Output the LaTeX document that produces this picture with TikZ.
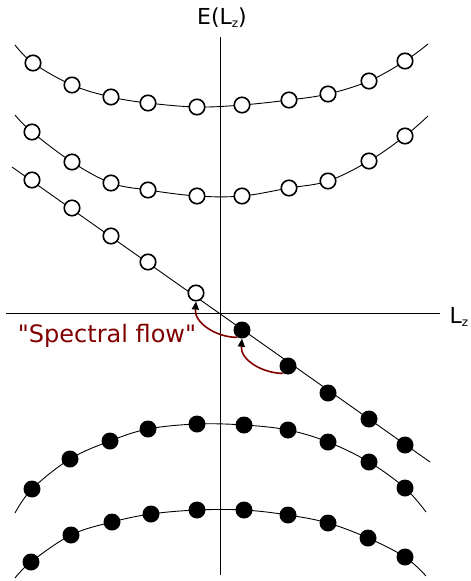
\documentclass[tikz,border=0pt]{standalone}
\usepackage{fontspec}
\setmainfont{DejaVu Sans}
\newfontfamily\plainfont{DejaVu Sans}
\usetikzlibrary{arrows.meta}
\definecolor{darkred}{RGB}{128,0,0}
\newcommand{\subz}{\raisebox{-3pt}{\fontsize{12}{14}\selectfont z}}
\tikzset{
  openc/.style={circle, draw=black, line width=1.6pt, fill=white, minimum size=15.5pt, inner sep=0pt},
  fullc/.style={circle, fill=black, minimum size=17pt, inner sep=0pt},
  curve/.style={line width=0.9pt},
  axisline/.style={line width=0.9pt},
  flow/.style={draw=darkred, line width=1.6pt, -{Triangle[length=8pt,width=7pt,color=black]}},
  lbl/.style={inner sep=0pt, font=\fontsize{22}{26}\selectfont},
}
\begin{document}
\begin{tikzpicture}[x=1pt,y=-1pt]
\useasboundingbox (0,0) rectangle (471,581);
% axes
\coordinate (vt) at (220,37);
\coordinate (vb) at (220,575);
\coordinate (hl) at (6,313);
\coordinate (hr) at (440,313);
\draw[axisline] (vt) -- (vb);
\draw[axisline] (hl) -- (hr);
\node[lbl] (ylab) at (222,18) {E(L\subz)};
\node[lbl] (xlab) at (459,317) {L\subz};
% curves
\draw[curve] plot[smooth, tension=0.6] coordinates {(15,45) (33,63) (72,85) (111,97) (148,103) (197,107) (242,105) (289,100) (328,94) (369,81) (405,61) (428,44)};
\draw[curve] plot[smooth, tension=0.6] coordinates {(15,115) (32,132) (72,162) (111,183) (148,190) (197,196) (242,196) (289,188) (328,181) (369,161) (405,136) (428,116)};
\coordinate (dl) at (12,167);
\coordinate (dr) at (430,462);
\draw[curve] (dl) -- (dr);
\draw[curve] plot[smooth, tension=0.6] coordinates {(15,513) (32,489) (70,459) (110,441) (148,429) (197,424) (244,425) (288,430) (328,442) (369,462) (405,488) (426,512)};
\draw[curve] plot[smooth, tension=0.6] coordinates {(15,578) (31,562) (71,535) (112,522) (151,514) (197,510) (244,510) (288,515) (328,523) (368,538) (405,557) (426,576)};
% open circles
\foreach \x/\y [count=\i] in {33/63,72/85,111/97,148/103,197/107,242/105,289/100,328/94,369/81,405/61}
  \node[openc] (a\i) at (\x,\y) {};
\foreach \x/\y [count=\i] in {32/132,72/162,111/183,148/190,197/196,242/196,289/188,328/181,369/161,405/136}
  \node[openc] (b\i) at (\x,\y) {};
\foreach \x/\y [count=\i] in {32/180,72/208,111/236,148/262,196/293}
  \node[openc] (o\i) at (\x,\y) {};
% filled circles
\foreach \x/\y [count=\i] in {242/330,288/366,328/393,369/419,405/445}
  \node[fullc] (f\i) at (\x,\y) {};
\foreach \x/\y [count=\i] in {32/489,70/459,110/441,148/429,197/424,244/425,288/430,328/442,369/462,405/488}
  \node[fullc] (c\i) at (\x,\y) {};
\foreach \x/\y [count=\i] in {31/562,71/535,112/522,151/514,197/510,244/510,288/515,328/523,368/538,405/557}
  \node[fullc] (d\i) at (\x,\y) {};
% spectral flow
\draw[flow] (f1.238) to[out=180,in=-95] (o5.south);
\draw[flow] (f2.238) to[out=180,in=-95] (f1.south);
\node[inner sep=0pt, text=darkred, font=\plainfont\fontsize{24}{28}\selectfont] (sf) at (107,336) {"Spectral flow"};
\end{tikzpicture}
\end{document}
